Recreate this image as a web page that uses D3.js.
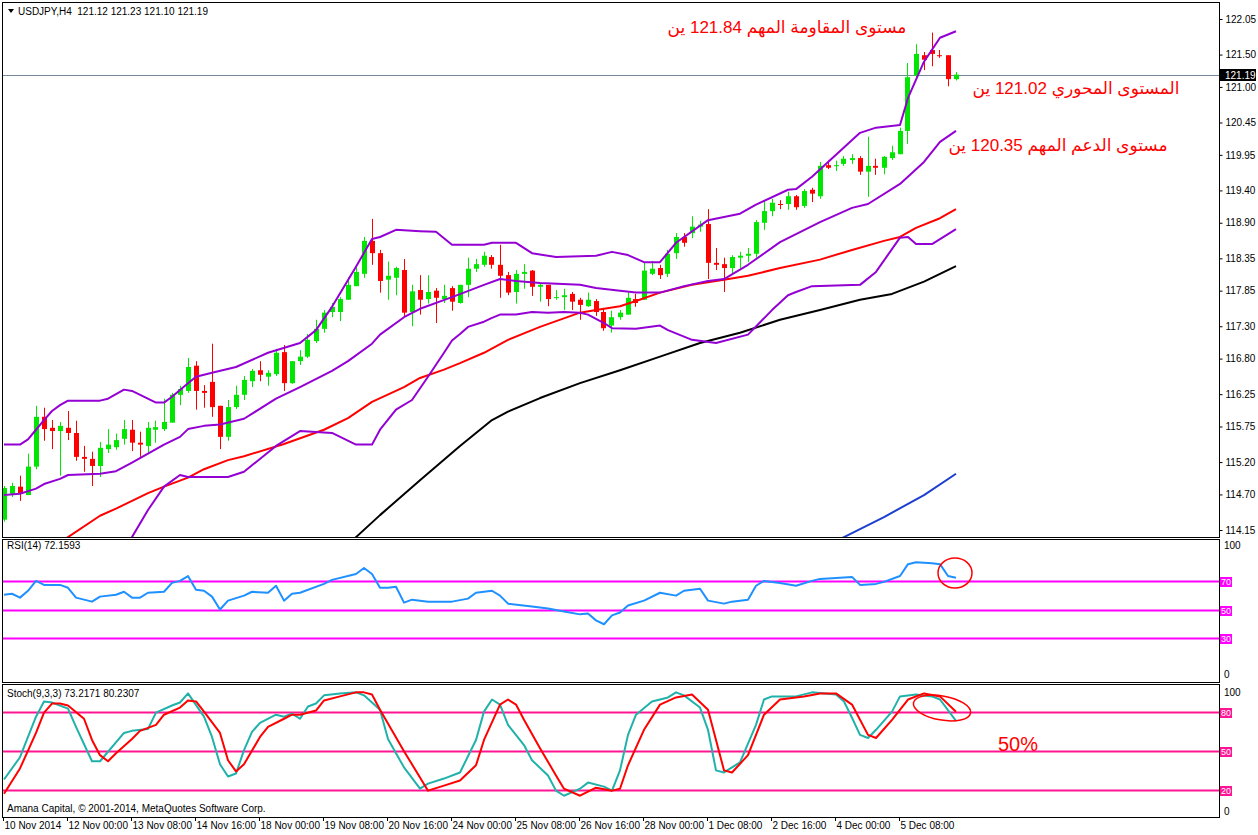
<!DOCTYPE html>
<html>
<head>
<meta charset="utf-8">
<script src="https://cdn.jsdelivr.net/npm/d3@7/dist/d3.min.js"></script>
<style>
  body { margin: 0; background: #fff; }
  svg text { font-family: "Liberation Sans", Arial, sans-serif; }
</style>
</head>
<body>
<svg id="chart" width="1258" height="835"></svg>
<script>
// -----------
// DATOS (USDJPY H4)
// -----------
const opens = [114.31,114.71,114.82,114.69,115.13,115.90,115.73,115.68,115.73,115.65,
  115.28,115.25,115.14,115.40,115.43,115.56,115.70,115.50,115.45,115.70,
  115.71,115.81,116.24,116.30,116.69,116.30,116.44,116.07,115.59,116.05,
  116.24,116.45,116.62,116.52,116.56,116.90,116.42,116.76,116.83,117.07,
  117.26,117.52,117.52,117.71,117.92,118.11,118.62,118.43,118.02,118.05,
  118.17,117.52,117.86,117.72,117.85,117.72,117.89,117.66,117.94,118.19,
  118.25,118.37,118.25,118.09,117.83,118.11,118.16,117.91,117.94,117.74,
  117.75,117.80,117.71,117.61,117.69,117.52,117.31,117.44,117.48,117.72,
  117.71,118.11,118.20,118.11,118.43,118.68,118.74,118.84,118.88,118.28,
  118.26,118.20,118.36,118.39,118.42,118.90,119.08,119.19,119.19,119.31,
  119.16,119.41,119.31,119.79,119.78,119.81,119.87,119.90,119.69,119.78,
  119.75,119.90,119.96,120.32,121.17,121.49,121.57,121.49,121.49,121.12];
const highs = [114.83,114.88,114.99,115.33,116.07,116.04,115.85,115.82,115.99,115.84,
  115.45,115.36,115.51,115.71,115.64,115.85,115.85,115.67,115.82,115.84,
  116.18,116.27,116.38,116.81,116.76,116.39,117.03,116.07,116.16,116.38,
  116.53,116.64,116.76,116.62,116.95,117.01,116.76,116.93,117.18,117.40,
  117.55,117.66,117.75,118.06,118.25,118.68,118.96,118.48,118.30,118.22,
  118.34,117.94,118.09,118.09,117.89,117.94,117.92,117.94,118.36,118.34,
  118.45,118.40,118.56,118.14,118.17,118.26,118.17,117.97,117.94,117.86,
  117.88,117.83,117.74,117.82,117.72,117.58,117.54,117.55,117.82,117.80,
  118.28,118.31,118.25,118.48,118.74,118.74,119.00,118.93,119.11,118.51,
  118.36,118.40,118.45,118.51,118.94,119.25,119.27,119.25,119.38,119.33,
  119.42,119.44,119.84,119.86,119.86,119.93,119.96,119.93,120.23,119.89,
  119.93,120.09,120.37,121.37,121.66,121.54,121.84,121.57,121.49,121.23];
const lows = [114.28,114.66,114.60,114.69,115.09,115.53,115.40,114.99,115.54,115.22,
  115.05,114.83,114.97,115.34,115.39,115.47,115.37,115.28,115.34,115.50,
  115.68,115.81,116.08,116.27,116.01,116.04,115.90,115.40,115.53,116.02,
  116.16,116.36,116.45,116.38,116.53,116.30,116.41,116.70,116.81,117.04,
  117.20,117.44,117.38,117.71,117.92,118.05,118.25,117.82,117.71,117.78,
  117.46,117.30,117.48,117.65,117.35,117.66,117.54,117.65,117.75,118.14,
  118.22,118.19,117.74,117.78,117.65,117.88,117.77,117.68,117.61,117.71,
  117.55,117.55,117.40,117.60,117.46,117.23,117.20,117.40,117.48,117.60,
  117.71,118.09,118.03,118.06,118.34,118.53,118.66,118.76,118.03,118.17,
  117.83,118.11,118.20,118.29,118.36,118.79,119.00,119.11,119.10,119.10,
  119.13,119.22,119.27,119.73,119.70,119.78,119.81,119.64,119.30,119.64,
  119.65,119.87,119.96,120.12,121.11,121.26,121.32,121.45,121.01,121.10];
const closes = [114.80,114.83,114.71,115.13,115.90,115.71,115.68,115.76,115.65,115.28,
  115.25,115.14,115.42,115.47,115.54,115.71,115.50,115.47,115.73,115.74,
  115.82,116.24,116.33,116.67,116.30,116.27,116.05,115.59,116.05,116.24,
  116.47,116.61,116.55,116.58,116.89,116.42,116.76,116.83,117.09,117.26,
  117.51,117.60,117.72,117.94,118.14,118.62,118.43,118.00,118.08,118.20,
  117.51,117.84,117.71,117.83,117.74,117.77,117.68,117.94,118.19,118.26,
  118.39,118.25,118.08,117.82,118.11,118.14,117.91,117.94,117.72,117.75,
  117.78,117.68,117.63,117.71,117.52,117.27,117.44,117.51,117.74,117.66,
  118.16,118.19,118.09,118.42,118.68,118.59,118.84,118.87,118.28,118.25,
  118.20,118.37,118.39,118.42,118.91,119.08,119.21,119.18,119.31,119.14,
  119.39,119.35,119.78,119.75,119.79,119.89,119.90,119.69,119.78,119.75,
  119.92,119.99,120.32,121.15,121.51,121.42,121.51,121.48,121.12,121.19];

// [barra, valor]
const bbUpper = [[0,115.47],[2,115.47],[3,115.55],[4,115.70],[5,115.85],[6,115.99],[7,116.08],[8,116.15],
  [12,116.15],[13,116.18],[15,116.32],[16,116.30],[19,116.12],[20,116.12],[21,116.21],[23,116.42],[24,116.52],
  [26,116.58],[29,116.67],[33,116.89],[37,117.04],[39,117.24],[41,117.60],[44,118.22],[46,118.65],[47,118.68],
  [49,118.79],[52,118.77],[54,118.76],[56,118.56],[60,118.56],[61,118.59],[64,118.59],[66,118.43],[69,118.37],
  [74,118.39],[76,118.45],[78,118.40],[80,118.29],[82,118.29],[84,118.59],[88,118.94],[90,118.99],[92,119.04],
  [94,119.18],[98,119.41],[99,119.42],[101,119.61],[104,119.95],[107,120.29],[109,120.37],[112,120.41],
  [113,120.83],[115,121.39],[117,121.76],[119,121.86]];
const bbMiddle = [[0,114.69],[2,114.71],[4,114.79],[5,114.86],[7,114.94],[8,115.00],[12,115.02],[14,115.06],
  [16,115.19],[18,115.33],[20,115.47],[22,115.59],[23,115.71],[25,115.76],[27,115.78],[30,115.87],[34,116.18],
  [37,116.36],[41,116.61],[43,116.76],[46,117.03],[47,117.17],[50,117.44],[52,117.57],[56,117.75],[60,117.94],
  [62,118.03],[64,118.00],[67,117.97],[72,117.94],[74,117.89],[77,117.85],[79,117.82],[82,117.82],[85,117.92],
  [88,118.00],[90,118.03],[93,118.25],[97,118.60],[102,118.91],[106,119.13],[108,119.19],[112,119.50],
  [115,119.84],[117,120.15],[119,120.32]];
const bbLower = [[14,113.38],[16,114.04],[18,114.46],[20,114.82],[22,115.00],[23,114.97],[28,114.97],[30,115.05],
  [34,115.45],[37,115.68],[41,115.65],[44,115.47],[46,115.47],[47,115.70],[49,116.01],[51,116.16],[53,116.52],
  [55,116.89],[56,117.08],[57,117.18],[58,117.29],[60,117.37],[61,117.43],[62,117.48],[64,117.48],[66,117.52],
  [68,117.51],[70,117.52],[72,117.51],[73,117.48],[75,117.35],[76,117.27],[79,117.26],[82,117.31],[83,117.24],
  [85,117.14],[86,117.09],[89,117.04],[93,117.17],[96,117.55],[98,117.78],[99,117.83],[101,117.92],[107,117.94],
  [109,118.14],[112,118.67],[113,118.68],[114,118.57],[116,118.57],[119,118.80]];
const maRed = [[4,113.69],[8,114.04],[12,114.37],[14,114.48],[16,114.60],[18,114.72],[20,114.82],[23,114.96],
  [25,115.09],[28,115.23],[30,115.29],[35,115.48],[40,115.70],[43,115.88],[46,116.13],[50,116.36],[52,116.50],
  [55,116.63],[57,116.73],[60,116.89],[63,117.09],[67,117.29],[72,117.51],[74,117.55],[77,117.61],[79,117.69],
  [82,117.82],[86,117.94],[90,118.02],[93,118.08],[97,118.20],[102,118.33],[106,118.48],[110,118.62],
  [112,118.68],[114,118.82],[117,118.97],[119,119.11]];
const maBlack = [[42,113.81],[44,114.04],[47,114.38],[52,114.92],[57,115.45],[61,115.85],[63,115.98],[67,116.19],
  [72,116.42],[77,116.62],[82,116.83],[87,117.04],[92,117.20],[97,117.40],[102,117.55],[107,117.71],
  [111,117.80],[115,117.99],[119,118.23]];
const maBlue = [[103,113.92],[105,114.04],[110,114.35],[115,114.69],[119,115.02]];

const rsi = [[0,60.3],[1,61.0],[2,58.3],[3,63.1],[4,70.0],[5,67.2],[7,67.2],[8,65.2],[9,58.3],[11,55.5],
  [12,59.0],[14,60.3],[15,62.4],[16,58.3],[17,58.3],[18,61.7],[20,62.4],[21,68.6],[22,70.0],[23,73.4],
  [24,63.8],[25,63.1],[26,59.0],[27,50.0],[28,56.2],[30,59.7],[31,62.4],[33,61.7],[34,66.6],[35,56.2],
  [36,61.0],[37,61.7],[40,67.9],[41,70.7],[44,74.8],[45,79.0],[46,74.8],[47,65.2],[48,65.2],[49,65.9],
  [50,54.8],[51,56.9],[52,56.2],[53,55.5],[56,55.5],[58,57.6],[59,61.7],[61,63.1],[62,59.7],[63,54.1],
  [66,52.1],[68,50.7],[70,48.6],[72,46.6],[73,47.2],[74,42.4],[75,39.7],[76,45.9],[77,47.9],[78,52.8],
  [80,56.2],[82,61.7],[84,59.7],[85,63.1],[87,64.5],[88,56.2],[90,54.1],[91,55.5],[93,56.9],[94,66.6],
  [95,70.0],[97,68.6],[99,66.6],[101,70.0],[102,71.4],[104,72.1],[106,72.8],[107,67.2],[109,67.9],
  [110,69.3],[112,73.4],[113,81.7],[114,83.1],[116,82.4],[117,81.7],[118,73.4],[119,72.16]];
const rsiLevels = [70, 50, 30];

const stochK = [[0,28.1],[2,45.2],[4,76.4],[5,88.1],[6,87.3],[8,82.6],[9,68.6],[11,42.1],[12,42.1],[15,63.9],
  [16,65.5],[18,67.0],[19,79.5],[21,85.0],[22,87.3],[23,94.3],[25,76.4],[26,60.8],[27,39.8],[28,30.4],
  [29,32.7],[30,50.7],[31,64.7],[32,71.7],[34,77.9],[35,76.4],[36,78.7],[37,74.8],[38,84.2],[39,86.5],
  [40,92.8],[42,94.3],[44,95.1],[45,92.8],[47,81.8],[48,59.2],[50,37.4],[52,21.0],[53,24.9],[55,28.8],
  [57,33.5],[59,58.5],[60,80.3],[61,89.6],[62,85.7],[63,70.1],[65,54.6],[66,42.9],[68,31.2],[69,19.5],
  [70,15.6],[72,21.0],[73,25.7],[75,22.6],[76,19.5],[77,35.1],[78,62.4],[79,77.9],[81,88.1],[83,91.2],
  [84,95.1],[85,92.8],[87,83.4],[88,66.3],[89,35.1],[90,33.5],[92,41.3],[94,70.1],[95,89.6],[96,92.0],
  [99,92.0],[101,95.1],[104,93.5],[105,88.1],[106,75.6],[107,62.4],[108,60.0],[109,66.3],[111,80.3],
  [112,92.0],[114,93.5],[116,92.0],[117,89.6],[119,73.22]];
const stochD = [[0,17.1],[2,36.6],[4,63.9],[5,79.5],[6,86.5],[7,86.5],[8,85.0],[10,74.8],[11,58.5],[12,46.8],
  [13,42.1],[14,48.3],[16,59.2],[17,65.5],[19,70.1],[20,77.9],[22,83.4],[23,88.9],[24,88.1],[25,80.3],
  [27,63.9],[28,42.9],[29,34.3],[30,39.8],[32,60.8],[33,68.6],[35,74.8],[36,77.9],[37,77.9],[39,81.1],
  [40,88.9],[42,92.0],[44,95.1],[45,95.1],[46,93.5],[47,81.8],[50,49.9],[52,29.6],[53,19.5],[55,23.4],
  [57,27.3],[59,39.0],[60,58.5],[62,85.7],[63,89.6],[64,85.7],[65,74.0],[67,52.2],[69,31.2],[70,21.0],
  [72,15.6],[74,21.8],[76,19.5],[77,21.0],[78,39.0],[80,66.3],[82,85.7],[84,91.2],[86,93.5],[88,81.8],
  [89,58.5],[90,35.1],[91,33.5],[93,46.8],[95,77.9],[97,89.6],[100,92.0],[102,94.3],[104,94.3],[106,85.7],
  [108,62.4],[109,60.0],[111,74.0],[113,89.6],[115,94.3],[117,92.0],[119,80.23]];
const stochLevels = [80, 50, 20];

const priceTicks = [122.05,121.50,121.00,120.45,119.95,119.40,118.90,118.35,117.85,117.30,116.80,116.25,115.75,115.20,114.70,114.15];
const timeTicks = [0,8,16,24,32,40,48,56,64,72,80,88,96,104,112];
const timeLabels = ['10 Nov 2014','12 Nov 00:00','13 Nov 08:00','14 Nov 16:00','18 Nov 00:00','19 Nov 08:00',
  '20 Nov 16:00','24 Nov 00:00','25 Nov 08:00','26 Nov 16:00','28 Nov 00:00','1 Dec 08:00','2 Dec 16:00',
  '4 Dec 00:00','5 Dec 08:00'];
const lastPrice = 121.19;

// -----------
// ESCALAS / PANELES
// -----------
const L = 2, R = 1219;
const paneles = {
  main: { top: 2, bottom: 537 },
  rsi: { top: 539, bottom: 682 },
  st: { top: 684, bottom: 817 },
};
const svg = d3.select('#chart');
const x = d3.scaleLinear().domain([0, 119]).range([3.5, 955.5]);
const y = d3.scaleLinear().domain([114.15, 122.05]).range([530, 19]);
const yRsi = d3.scaleLinear().domain([0, 100]).range([681, 538]);
const ySt = d3.scaleLinear().domain([0, 100]).range([816, 686]);

const defs = svg.append('defs');
Object.entries(paneles).forEach(([k, p]) => {
  defs.append('clipPath').attr('id', `clip-${k}`)
    .append('rect').attr('x', L + 1).attr('y', p.top + 1).attr('width', R - L - 1).attr('height', p.bottom - p.top - 1);
});

function drawLine(panel, data, yScale, color, width) {
  svg.append('path')
    .datum(data)
    .attr('clip-path', `url(#clip-${panel})`)
    .attr('fill', 'none')
    .attr('stroke', color)
    .attr('stroke-width', width)
    .attr('stroke-linejoin', 'round')
    .attr('d', d3.line().x(d => x(d[0]) + 0.5).y(d => yScale(d[1])));
}

// precio actual
svg.append('line')
  .attr('x1', L).attr('x2', R)
  .attr('y1', Math.round(y(lastPrice)) + 0.5).attr('y2', Math.round(y(lastPrice)) + 0.5)
  .attr('stroke', '#778899').attr('stroke-width', 1);

// -----------
// VELAS
// -----------
const bars = d3.range(opens.length).map(i => ({ i, o: opens[i], h: highs[i], l: lows[i], c: closes[i] }));
const gVelas = svg.append('g').attr('clip-path', 'url(#clip-main)');
const colorVela = d => (d.c >= d.o ? '#00e600' : '#ff0000');
gVelas.selectAll('line.wick').data(bars).join('line')
  .attr('class', 'wick')
  .attr('x1', d => Math.round(x(d.i)) + 0.5).attr('x2', d => Math.round(x(d.i)) + 0.5)
  .attr('y1', d => y(d.h)).attr('y2', d => y(d.l))
  .attr('stroke', colorVela).attr('stroke-width', 1);
gVelas.selectAll('rect.body').data(bars).join('rect')
  .attr('class', 'body')
  .attr('x', d => Math.round(x(d.i)) - 2)
  .attr('width', 5)
  .attr('y', d => y(Math.max(d.o, d.c)))
  .attr('height', d => Math.max(1, Math.abs(y(d.o) - y(d.c))))
  .attr('fill', colorVela);

// medias y bandas
drawLine('main', maRed, y, '#ff0000', 2);
drawLine('main', maBlack, y, '#000000', 2);
drawLine('main', maBlue, y, '#1d3fcf', 2);
drawLine('main', bbLower, y, '#9400d3', 2);
drawLine('main', bbMiddle, y, '#9400d3', 2);
drawLine('main', bbUpper, y, '#9400d3', 2);

// -----------
// RSI / STOCH
// -----------
rsiLevels.forEach(v => {
  svg.append('line').attr('x1', L).attr('x2', R)
    .attr('y1', Math.round(yRsi(v)) + 0.5).attr('y2', Math.round(yRsi(v)) + 0.5)
    .attr('stroke', '#ff00ff').attr('stroke-width', 2);
});
drawLine('rsi', rsi, yRsi, '#1e90ff', 2);

stochLevels.forEach(v => {
  svg.append('line').attr('x1', L).attr('x2', R)
    .attr('y1', Math.round(ySt(v)) + 0.5).attr('y2', Math.round(ySt(v)) + 0.5)
    .attr('stroke', '#ff1493').attr('stroke-width', 2);
});
drawLine('st', stochK, ySt, '#20b2aa', 2);
drawLine('st', stochD, ySt, '#ff0000', 2);

// bordes de paneles
Object.values(paneles).forEach(p => {
  svg.append('rect')
    .attr('x', L + 0.5).attr('y', p.top + 0.5)
    .attr('width', R - L).attr('height', p.bottom - p.top)
    .attr('fill', 'none').attr('stroke', '#000').attr('stroke-width', 1);
});

// -----------
// EJES
// -----------
const yAxis = d3.axisRight(y).tickValues(priceTicks).tickSize(3).tickPadding(3).tickFormat(d3.format('.2f'));
svg.append('g')
  .attr('transform', `translate(${R + 0.5},0)`)
  .call(yAxis)
  .call(g => g.select('.domain').remove())
  .call(g => g.selectAll('text').attr('font-size', 10).attr('fill', '#000').style('font-family', '"Liberation Sans", Arial, sans-serif'))
  .call(g => g.selectAll('line').attr('stroke', '#000'));

// caja precio actual
const yp = Math.round(y(lastPrice));
svg.append('rect').attr('x', R + 1).attr('y', yp - 6).attr('width', 36).attr('height', 12).attr('fill', '#000');
svg.append('text').attr('x', R + 6).attr('y', yp + 4).attr('font-size', 10).attr('fill', '#fff').text(lastPrice.toFixed(2));

function levelBox(yy, v, color) {
  svg.append('rect').attr('x', R + 1).attr('y', Math.round(yy) - 4).attr('width', 12).attr('height', 10).attr('fill', color);
  svg.append('text').attr('x', R + 2).attr('y', Math.round(yy) + 4).attr('font-size', 9).attr('fill', '#fff').text(v);
}
rsiLevels.forEach(v => levelBox(yRsi(v), v, '#ff00ff'));
stochLevels.forEach(v => levelBox(ySt(v), v, '#ff1493'));
svg.append('text').attr('x', R + 5).attr('y', yRsi(100) + 11).attr('font-size', 10).text('100');
svg.append('text').attr('x', R + 5).attr('y', yRsi(0) - 3).attr('font-size', 10).text('0');
svg.append('text').attr('x', R + 5).attr('y', ySt(100) + 10).attr('font-size', 10).text('100');
svg.append('text').attr('x', R + 5).attr('y', ySt(0) - 1).attr('font-size', 10).text('0');

// eje de tiempo
const gT = svg.append('g');
timeTicks.forEach((t, k) => {
  const tx = Math.floor(x(t)) + 0.5;
  gT.append('line').attr('x1', tx).attr('x2', tx).attr('y1', paneles.st.bottom).attr('y2', paneles.st.bottom + 4).attr('stroke', '#000');
  gT.append('text').attr('x', tx + 1).attr('y', 829).attr('font-size', 10).text(timeLabels[k]);
});

// -----------
// TEXTOS
// -----------
svg.append('path').attr('d', 'M8,9 L14,9 L11,13 Z').attr('fill', '#000');
svg.append('text').attr('x', 18).attr('y', 15).attr('font-size', 10).attr('xml:space', 'preserve')
  .text('USDJPY,H4  121.12 121.23 121.10 121.19');
svg.append('text').attr('x', 7).attr('y', 549).attr('font-size', 10).text('RSI(14) 72.1593');
svg.append('text').attr('x', 7).attr('y', 697).attr('font-size', 10).text('Stoch(9,3,3) 73.2171 80.2307');
svg.append('text').attr('x', 7).attr('y', 812).attr('font-size', 10).text('Amana Capital, © 2001-2014, MetaQuotes Software Corp.');

const notas = [
  { t: 'مستوى المقاومة المهم 121.84 ين', cx: 787, by: 33 },
  { t: 'المستوى المحوري 121.02 ين', cx: 1076, by: 94 },
  { t: 'مستوى الدعم المهم 120.35 ين', cx: 1058, by: 151 },
];
notas.forEach(n => {
  svg.append('text').attr('x', n.cx).attr('y', n.by).attr('text-anchor', 'middle')
    .attr('font-size', 17).attr('fill', '#ff0000')
    .style('font-family', '"Liberation Sans", "DejaVu Sans", sans-serif')
    .text(n.t);
});
svg.append('text').attr('x', 998).attr('y', 751).attr('font-size', 20).attr('fill', '#ff0000').text('50%');

// marcas a mano
svg.append('ellipse').attr('cx', 955).attr('cy', 573).attr('rx', 17).attr('ry', 15)
  .attr('fill', 'none').attr('stroke', '#ff0000').attr('stroke-width', 1.5);
svg.append('ellipse').attr('cx', 942).attr('cy', 708).attr('rx', 29).attr('ry', 12)
  .attr('transform', 'rotate(10 942 708)')
  .attr('fill', 'none').attr('stroke', '#ff0000').attr('stroke-width', 1.5);
</script>
</body>
</html>
